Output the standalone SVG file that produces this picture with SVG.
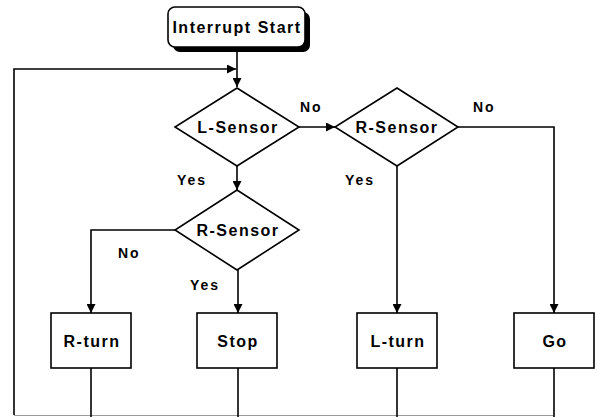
<svg xmlns="http://www.w3.org/2000/svg" width="597" height="417" viewBox="0 0 597 417">
  <defs>
    <marker id="arrow" viewBox="0 0 10 10" refX="10" refY="5" markerWidth="9" markerHeight="9" markerUnits="userSpaceOnUse" orient="auto">
      <path d="M0,0 L10,5 L0,10 Z" fill="#000"/>
    </marker>
    <style>
      .shape { fill: #fff; stroke: #000; stroke-width: 1.6; }
      .line { fill: none; stroke: #000; stroke-width: 1.6; }
      .faint { fill: none; stroke: #9a9a9a; stroke-width: 1.2; }
      .label { font-family: "Liberation Sans", Arial, sans-serif; font-size: 16px; font-weight: bold; letter-spacing: 1.5px; fill: #000; text-anchor: middle; }
      .edge { font-family: "Liberation Sans", Arial, sans-serif; font-size: 14px; font-weight: bold; letter-spacing: 2px; fill: #000; }
    </style>
  </defs>
  <rect width="597" height="417" fill="#fff"/>

  <!-- connectors -->
  <g id="connectors">
    <!-- start to L-Sensor -->
    <path class="line" d="M237,47 V87" marker-end="url(#arrow)"/>
    <!-- return loop -->
    <path class="line" d="M14,415 V69 H236" marker-end="url(#arrow)"/>
    <path class="faint" d="M14,415.5 H554"/>
    <!-- L-Sensor No -> R-Sensor -->
    <path class="line" d="M299,127 H335" marker-end="url(#arrow)"/>
    <!-- L-Sensor Yes -> R-Sensor (2) -->
    <path class="line" d="M237,166 V190" marker-end="url(#arrow)"/>
    <!-- R-Sensor No -> Go -->
    <path class="line" d="M458,127 H554 V313" marker-end="url(#arrow)"/>
    <!-- R-Sensor Yes -> L-turn -->
    <path class="line" d="M397,166 V313" marker-end="url(#arrow)"/>
    <!-- R-Sensor (2) No -> R-turn -->
    <path class="line" d="M175,230 H91 V313" marker-end="url(#arrow)"/>
    <!-- R-Sensor (2) Yes -> Stop -->
    <path class="line" d="M238,270 V313" marker-end="url(#arrow)"/>
    <!-- action boxes back to loop -->
    <path class="line" d="M91,368 V417"/>
    <path class="line" d="M238,368 V417"/>
    <path class="line" d="M397,368 V417"/>
    <path class="line" d="M554,368 V417"/>

    <text class="edge" x="300" y="112">No</text>
    <text class="edge" x="473" y="112">No</text>
    <text class="edge" x="177" y="185">Yes</text>
    <text class="edge" x="345" y="185">Yes</text>
    <text class="edge" x="118" y="258">No</text>
    <text class="edge" x="190" y="290">Yes</text>
  </g>

  <g id="start">
    <rect x="173" y="12" width="137" height="40" rx="7" fill="#000"/>
    <rect class="shape" x="168" y="7" width="137" height="40" rx="7"/>
    <text class="label" x="237" y="33">Interrupt Start</text>
  </g>

  <g id="l-sensor">
    <polygon class="shape" points="237,88 299,127 237,166 175,127"/>
    <text class="label" x="238" y="133">L-Sensor</text>
  </g>

  <g id="r-sensor-1">
    <polygon class="shape" points="397,88 458,127 397,166 335,127"/>
    <text class="label" x="397" y="133">R-Sensor</text>
  </g>

  <g id="r-sensor-2">
    <polygon class="shape" points="237,190 299,230 237,270 175,230"/>
    <text class="label" x="238" y="236">R-Sensor</text>
  </g>

  <g id="r-turn">
    <rect class="shape" x="51" y="313" width="80" height="55"/>
    <text class="label" x="92" y="347">R-turn</text>
  </g>

  <g id="stop">
    <rect class="shape" x="197" y="313" width="80" height="55"/>
    <text class="label" x="238" y="347">Stop</text>
  </g>

  <g id="l-turn">
    <rect class="shape" x="357" y="313" width="80" height="55"/>
    <text class="label" x="398" y="347">L-turn</text>
  </g>

  <g id="go">
    <rect class="shape" x="514" y="313" width="80" height="55"/>
    <text class="label" x="555" y="347">Go</text>
  </g>
</svg>
